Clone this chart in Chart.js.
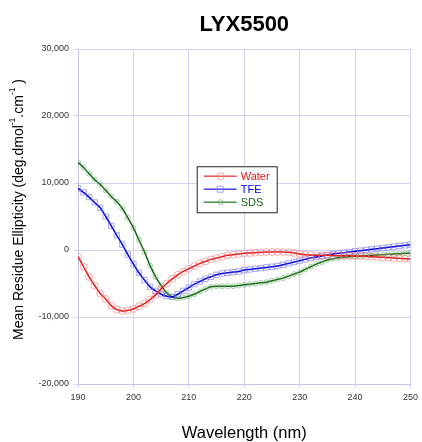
<!DOCTYPE html>
<html>
<head>
<meta charset="utf-8">
<script src="https://cdn.jsdelivr.net/npm/chart.js@4.4.1/dist/chart.umd.min.js"></script>
<style>
  html, body { margin: 0; padding: 0; background: #fff; }
  #wrap { position: relative; width: 422px; height: 442px; }
</style>
</head>
<body>
<div id="wrap"><canvas id="cd"></canvas></div>
<script>
// wavelength grid (nm)
const wavelengths = [190,191,192,193,194,195,196,197,198,199,200,201,202,203,204,205,206,207,208,209,
  210,211,212,213,214,215,216,217,218,219,220,221,222,223,224,225,226,227,228,229,
  230,231,232,233,234,235,236,237,238,239,240,241,242,243,244,245,246,247,248,249,250];

// mean residue ellipticity
const water = [-1000,-2500,-4000,-5300,-6500,-7300,-8300,-8900,-9100,-9000,
  -8800,-8400,-8000,-7400,-6700,-5800,-5000,-4300,-3700,-3200,
  -2800,-2400,-2000,-1700,-1400,-1200,-1000,-800,-700,-600,
  -500,-450,-400,-350,-300,-300,-300,-300,-350,-450,
  -600,-700,-750,-800,-800,-800,-800,-850,-850,-850,
  -900,-900,-950,-1000,-1050,-1100,-1150,-1200,-1250,-1300,-1350];

const tfe = [9200,8600,7900,7100,6300,5000,3600,2200,800,-700,
  -2100,-3400,-4500,-5500,-6100,-6600,-6900,-7000,-6600,-6100,
  -5600,-5100,-4700,-4300,-4000,-3700,-3500,-3400,-3300,-3200,
  -3000,-2900,-2800,-2700,-2600,-2500,-2400,-2200,-2000,-1800,
  -1600,-1400,-1200,-1050,-900,-750,-600,-500,-400,-300,
  -200,-100,0,100,200,300,400,500,600,700,800];

const sds = [13100,12300,11400,10500,9800,8900,8000,7200,6200,4800,
  3300,1500,-300,-2300,-4000,-5300,-6400,-7000,-7200,-7100,
  -6900,-6600,-6200,-5800,-5500,-5400,-5400,-5400,-5400,-5300,
  -5200,-5100,-5000,-4900,-4800,-4600,-4400,-4200,-3900,-3600,
  -3300,-2900,-2500,-2100,-1800,-1500,-1300,-1150,-1050,-1000,
  -950,-900,-850,-800,-750,-700,-650,-600,-550,-500,-450];

const seriesNames = ['Water', 'TFE', 'SDS'];
const xTicks = [190, 200, 210, 220, 230, 240, 250];
const yTicks = [-20000, -10000, 0, 10000, 20000, 30000];

const FONT = '"Liberation Sans", Arial, sans-serif';
const gridCol = '#d2d2f6';

const toXY = vals => vals.map((v, i) => ({ x: wavelengths[i], y: v }));

const datasets = [
  { label: seriesNames[0], data: toXY(water), borderColor: '#e01818', borderWidth: 1.5,
    pointStyle: 'circle', pointRadius: 3.5, pointBorderColor: 'rgba(240,110,110,0.55)',
    pointBackgroundColor: 'rgba(0,0,0,0)', pointBorderWidth: 1, tension: 0.3, legendText: '#e01818' },
  { label: seriesNames[1], data: toXY(tfe), borderColor: '#0000e0', borderWidth: 1.5,
    pointStyle: 'rect', pointRadius: 3.8, pointBorderColor: 'rgba(110,110,240,0.6)',
    pointBackgroundColor: 'rgba(0,0,0,0)', pointBorderWidth: 1, tension: 0.3, legendText: '#0000e0' },
  { label: seriesNames[2], data: toXY(sds), borderColor: '#146414', borderWidth: 1.5,
    pointStyle: 'circle', pointRadius: 2.5, pointBorderColor: 'rgba(90,170,90,0.55)',
    pointBackgroundColor: 'rgba(0,0,0,0)', pointBorderWidth: 1, tension: 0.3, legendText: '#146414' }
];

// title, axis titles and boxed legend
const decor = {
  id: 'decor',
  afterDraw(chart) {
    const ctx = chart.ctx, a = chart.chartArea;
    const cx = (a.left + a.right) / 2, cy = (a.top + a.bottom) / 2;
    ctx.save();
    ctx.fillStyle = '#000';
    ctx.textAlign = 'center';
    ctx.textBaseline = 'middle';
    ctx.font = 'bold 22px ' + FONT;
    ctx.fillText('LYX5500', cx, 25);
    ctx.font = '16.5px ' + FONT;
    ctx.fillText('Wavelength (nm)', cx, 433);

    // y title with superscripts
    const parts = [['Mean Residue Ellipticity (deg.dmol', false], ['-1', true], ['.cm', false], ['-1', true], [' )', false]];
    const big = '14px ' + FONT, small = '8.5px ' + FONT;
    let total = 0;
    parts.forEach(p => { ctx.font = p[1] ? small : big; total += ctx.measureText(p[0]).width; });
    ctx.translate(19, cy - 7);
    ctx.rotate(-Math.PI / 2);
    ctx.textAlign = 'left';
    let px = -total / 2;
    parts.forEach(p => {
      ctx.font = p[1] ? small : big;
      ctx.fillText(p[0], px, p[1] ? -6 : 0);
      px += ctx.measureText(p[0]).width;
    });
    ctx.restore();

    // legend box
    ctx.save();
    const lx = a.left + (a.right - a.left) * 0.357, ly = a.top + (a.bottom - a.top) * 0.35;
    const bw = 80, bh = 46;
    ctx.fillStyle = '#fff';
    ctx.fillRect(lx, ly, bw, bh);
    ctx.strokeStyle = '#222';
    ctx.lineWidth = 1;
    ctx.strokeRect(lx + 0.5, ly + 0.5, bw, bh);
    chart.data.datasets.forEach((ds, i) => {
      const yy = ly + 10 + i * 13;
      ctx.strokeStyle = ds.pointBorderColor;
      ctx.lineWidth = 1.5;
      ctx.beginPath();
      ctx.moveTo(lx + 7, yy);
      ctx.lineTo(lx + 40, yy);
      ctx.stroke();
      ctx.strokeStyle = ds.borderColor;
      ctx.globalAlpha = 0.55;
      ctx.stroke();
      ctx.globalAlpha = 1;
      ctx.strokeStyle = ds.pointBorderColor;
      ctx.lineWidth = 1;
      ctx.beginPath();
      if (ds.pointStyle === 'rect') ctx.rect(lx + 20.5, yy - 3, 6, 6);
      else ctx.arc(lx + 24, yy, ds.pointRadius, 0, Math.PI * 2);
      ctx.stroke();
      ctx.fillStyle = ds.legendText;
      ctx.font = '11px ' + FONT;
      ctx.textAlign = 'left';
      ctx.textBaseline = 'middle';
      ctx.fillText(ds.label, lx + 44, yy + 0.5);
    });
    ctx.restore();
  }
};

new Chart(document.getElementById('cd'), {
  type: 'line',
  data: { datasets },
  options: {
    responsive: true,
    maintainAspectRatio: false,
    animation: false,
    devicePixelRatio: 1,
    layout: { padding: { left: 0, right: 8, top: 49, bottom: 0 } },
    plugins: { legend: { display: false }, title: { display: false }, tooltip: { enabled: false } },
    scales: {
      x: {
        type: 'linear', min: 190, max: 250,
        afterBuildTicks: s => { s.ticks = xTicks.map(v => ({ value: v })); },
        afterFit: s => { s.height = 58; },
        grid: { color: gridCol, lineWidth: 1, drawTicks: true, tickLength: 4 },
        border: { color: '#c4c4f0' },
        ticks: { font: { family: FONT, size: 9 }, color: '#333', padding: 4, maxRotation: 0 }
      },
      y: {
        min: -20000, max: 30000,
        afterBuildTicks: s => { s.ticks = yTicks.map(v => ({ value: v })); },
        afterFit: s => { s.width = 78; },
        grid: { color: gridCol, lineWidth: 1, drawTicks: true, tickLength: 4 },
        border: { color: '#c4c4f0' },
        ticks: { font: { family: FONT, size: 9 }, color: '#333', padding: 5,
          callback: v => v.toLocaleString('en-US') }
      }
    }
  },
  plugins: [decor]
});
</script>
</body>
</html>
